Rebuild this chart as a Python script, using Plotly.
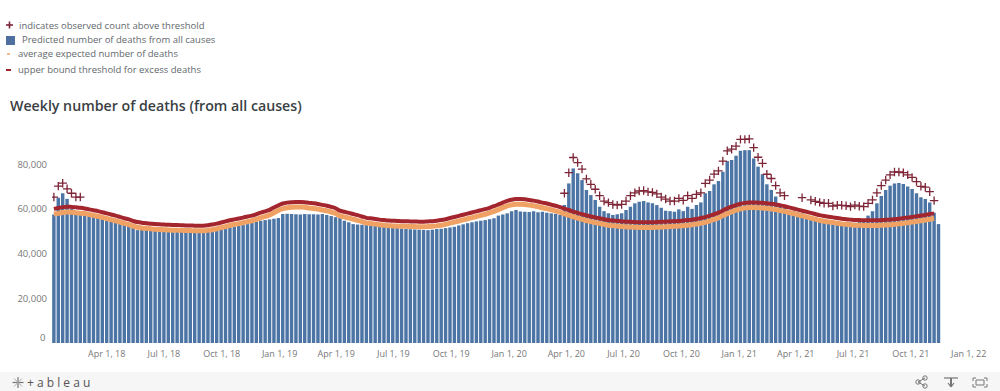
import pandas as pd
import plotly.graph_objects as go

FIRST_WEEK = "2018-01-07"
WEEK_COUNT = 202

predicted_k = [
 57.5,65,67,64.5,60,58.5,58,58,57.5,56.5,56,55.5,55,54.5,54,53.5,53,52.5,52,50.5,
 50.6,50.8,50.9,51,51,50.9,50.8,50.7,50.8,50.8,50.7,50.6,50.5,50.6,50.7,50.6,50.7,51,51.3,51.5,
 51.8,52.1,52.5,52.8,53.2,53.8,54.3,54.7,55,55.3,55.6,55.9,57.7,57.8,57.7,57.6,57.5,57.7,57.6,57.6,
 57.5,57.7,57.3,56.8,56.3,55.9,54.7,54,53.2,53,52.9,52.8,52.8,52.4,52.2,51.9,51.6,51.6,51.4,51.2,
 51,50.9,50.8,50.7,50.6,50.5,50.7,51,51.1,51.4,51.7,52,52.6,53.1,53.6,54,54.4,54.7,55,55.4,
 55.8,57,57.5,58,59,59.5,58.8,58.7,58.6,58.9,58.5,58.7,58.3,58,57.8,57.4,61.7,71.4,78.1,75.9,
 72.9,68.5,66.2,64,61,59,58,57.3,57.6,58,59.5,61,62.5,63.2,63.5,62.9,62.5,61.7,60.5,59.2,
 59,58.7,59.8,59,61,60,61.7,62.9,67,68,71,72.5,76.6,81.4,81.9,83.8,86,86.3,86.3,82.6,
 78.9,75.5,71,68.5,65.5,62,60.5,59.5,59,58.5,58,57,56.5,56,55.5,55.2,54.8,54.5,54.3,54.1,
 54,53.9,53.8,54.8,55.5,57,59,62.5,65.8,68.5,70.4,71.4,71.6,71.1,70,68.9,67,65.2,64.4,62.9,
 58.3,53.2]

threshold_k = [
 60,60.4,60.8,61,60.9,60.7,60.5,60.2,59.8,59.4,59,58.5,58,57.5,57,56.4,55.8,55.3,54.6,54.1,
 53.8,53.6,53.4,53.2,53.1,53,52.9,52.8,52.8,52.7,52.6,52.6,52.5,52.5,52.5,52.7,53,53.4,53.9,54.4,
 54.9,55.3,55.7,56.1,56.6,57,57.6,58.3,58.9,59.6,60.6,61.6,62.4,62.8,63,63.1,63.1,63,62.7,62.5,
 62.2,61.8,61.4,60.9,60.3,59.2,58.7,58.2,57.7,57.2,56.6,56,55.8,55.5,55.2,55,54.8,54.7,54.6,54.5,
 54.5,54.4,54.4,54.3,54.3,54.4,54.5,54.7,55,55.4,55.9,56.4,56.9,57.4,57.9,58.4,58.9,59.4,59.9,60.5,
 61.2,62,62.8,63.6,64.1,64.4,64.4,64.3,64,63.7,63.3,62.8,62.4,61.9,61.4,60.8,60.1,59.5,58.8,58.2,
 57.6,57.1,56.6,56.2,55.8,55.4,55,54.8,54.6,54.4,54.3,54.2,54.1,54,54,54,54,54.1,54.2,54.3,
 54.4,54.5,54.6,54.8,55,55.2,55.5,55.9,56.3,56.9,57.6,58.3,59.3,60.2,61,61.7,62.3,62.7,62.9,62.9,
 62.8,62.7,62.5,62.3,62,61.6,61.2,60.7,60.2,59.7,59.2,58.7,58.2,57.7,57.2,56.8,56.5,56.2,55.9,55.6,
 55.4,55.2,55,55,54.9,54.9,54.9,54.9,55,55.1,55.2,55.4,55.6,55.9,56.1,56.4,56.7,57,57.3,57.7,
 58,None]

average_k = [
 57.7,58,58.4,58.6,58.5,58.3,58.1,57.9,57.5,57.1,56.7,56.2,55.7,55.2,54.7,54.1,53.5,53,52.3,51.8,
 51.5,51.3,51.1,50.9,50.8,50.7,50.6,50.5,50.5,50.4,50.3,50.3,50.2,50.2,50.2,50.4,50.7,51.1,51.6,52.1,
 52.6,53,53.4,53.8,54.3,54.7,55.3,56,56.6,57.3,58.3,59.3,60.1,60.5,60.7,60.8,60.8,60.7,60.4,60.2,
 59.9,59.5,59.1,58.6,58,56.9,56.4,55.9,55.4,54.9,54.3,53.7,53.5,53.2,52.9,52.7,52.5,52.4,52.3,52.2,
 52.2,52.1,52.1,52,52,52.1,52.2,52.4,52.7,53.1,53.6,54.1,54.6,55.1,55.6,56.1,56.6,57.1,57.6,58.2,
 58.9,59.7,60.5,61.3,61.8,62.1,62.1,62,61.7,61.4,61,60.5,60.1,59.6,59.1,58.5,57.8,57.2,56.5,55.9,
 55.3,54.8,54.3,53.9,53.5,53.1,52.7,52.5,52.3,52.1,52,51.9,51.8,51.7,51.7,51.7,51.7,51.8,51.9,52,
 52.1,52.2,52.3,52.5,52.7,52.9,53.2,53.6,54,54.6,55.3,56,57,57.9,58.7,59.4,60,60.4,60.6,60.6,
 60.5,60.4,60.2,60,59.7,59.3,58.9,58.4,57.9,57.4,56.9,56.4,55.9,55.4,54.9,54.5,54.2,53.9,53.6,53.3,
 53.1,52.9,52.7,52.7,52.6,52.6,52.6,52.6,52.7,52.8,52.9,53.1,53.3,53.6,53.8,54.1,54.4,54.7,55,55.4,
 55.7,None]

observed_above_k = [
 65.3,70.2,71.5,69,67,65.3,65.3] + [None]*109 + [
 67,76.2,83,80.7,77.8,73.4,71,68.8,65.9,63.5,62.8,62,61.7,62,63.5,65.9,67.2,68,68.2,67.6,
 67.4,66.7,65.3,64.4,63.5,63.5,64.7,63.8,65.9,64.7,66.5,67.2,71.4,72.9,75.6,77,81.4,86,86.7,88.1,
 91.1,91.1,91.3,87.4,83.1,80.4,75.5,73.6,70.4,67.2,65.9,None,None,None,65,None,64,63.4,62.9,62.5,
 62.5,61.3,61.7,61.6,61.4,61,61.7,61.2,61,62.5,64,67.2,70.4,72.9,75.2,76.5,76.5,76.2,75.2,74.1,
 72.2,70.1,69.7,67.7,63.7,None]

tick_dates = ["2018-04-01","2018-07-01","2018-10-01","2019-01-01","2019-04-01","2019-07-01",
              "2019-10-01","2020-01-01","2020-04-01","2020-07-01","2020-10-01","2021-01-01",
              "2021-04-01","2021-07-01","2021-10-01","2022-01-01"]
tick_labels = ["Apr 1, 18","Jul 1, 18","Oct 1, 18","Jan 1, 19","Apr 1, 19","Jul 1, 19",
               "Oct 1, 19","Jan 1, 20","Apr 1, 20","Jul 1, 20","Oct 1, 20","Jan 1, 21",
               "Apr 1, 21","Jul 1, 21","Oct 1, 21","Jan 1, 22"]
y_ticks = [20000, 40000, 60000, 80000]
y_tick_labels = ["20,000", "40,000", "60,000", "80,000"]

legend_labels = ["indicates observed count above threshold",
                 "Predicted number of deaths from all causes",
                 "average expected number of deaths",
                 "upper bound threshold for excess deaths"]
title_text = "Weekly number of deaths (from all causes)"

W, H = 1000, 391
L, R, T, B = 52, 20, 130, 48
PW, PH = W - L - R, H - T - B
fx = lambda p: (p - L) / PW
fy = lambda p: (H - B - p) / PH

weeks = pd.date_range(FIRST_WEEK, periods=WEEK_COUNT, freq="7D")
scale = lambda s: [None if v is None else v * 1000 for v in s]

BLUE = "#4c75a5"; ORANGE = "#f0a265"; RED = "#a3252e"; PLUS = "#7d2436"
TXT = "#63686c"; FONT = "Open Sans"

fig = go.Figure()
fig.add_bar(x=weeks, y=scale(predicted_k), marker=dict(color=BLUE, line_width=0), name="predicted")
fig.add_scatter(x=weeks, y=scale(average_k), mode="lines", line=dict(color=ORANGE, width=5, shape="spline"), name="average")
fig.add_scatter(x=weeks, y=scale(threshold_k), mode="lines", line=dict(color=RED, width=4, shape="spline"), name="threshold")
fig.add_scatter(x=weeks, y=scale(observed_above_k), mode="markers", name="observed",
                marker=dict(symbol="cross-thin", size=6, line=dict(color=PLUS, width=1.3)))

shapes = []
def pline(x0, y0, x1, y1, c, w=1):
    shapes.append(dict(type="line", xref="paper", yref="paper", x0=fx(x0), y0=fy(y0), x1=fx(x1), y1=fy(y1),
                       line=dict(color=c, width=w)))
def prect(x0, y0, x1, y1, c):
    shapes.append(dict(type="rect", xref="paper", yref="paper", x0=fx(x0), y0=fy(y0), x1=fx(x1), y1=fy(y1),
                       fillcolor=c, line=dict(color=c, width=0), layer="below"))
def pcirc(cx, cy, r, c):
    shapes.append(dict(type="circle", xref="paper", yref="paper", x0=fx(cx - r), y0=fy(cy - r), x1=fx(cx + r), y1=fy(cy + r),
                       line=dict(color=c, width=1)))

prect(0, 372, 1000, 391, "#f6f6f6")
# legend keys
pline(6, 25, 13, 25, PLUS, 1.6); pline(9.5, 21.5, 9.5, 28.5, PLUS, 1.6)
prect(6, 36, 15, 45, "#4f6f9f")
pline(7, 54, 10, 54, ORANGE, 1.5)
pline(6, 70, 11, 70, RED, 2)
# tableau logo
pline(18, 377, 18, 388, "#777", 1.2); pline(12.5, 382.5, 23.5, 382.5, "#777", 1.2)
pline(14, 378.5, 22, 386.5, "#aaa", 1); pline(14, 386.5, 22, 378.5, "#aaa", 1)
# toolbar icons
pline(918, 382, 925, 378, "#777", 1); pline(918, 382, 925, 386, "#777", 1)
pcirc(918, 382, 2.2, "#777"); pcirc(925, 378, 2.2, "#777"); pcirc(925, 386, 2.2, "#777")
pline(944, 378, 958, 378, "#777", 1.2); pline(951, 378, 951, 386, "#777", 2)
pline(948, 383, 951, 387, "#777", 1.2); pline(954, 383, 951, 387, "#777", 1.2)
pline(973, 378, 976, 378, "#777", 1); pline(973, 378, 973, 381, "#777", 1)
pline(987, 378, 984, 378, "#777", 1); pline(987, 378, 987, 381, "#777", 1)
pline(973, 387, 976, 387, "#777", 1); pline(973, 387, 973, 384, "#777", 1)
pline(987, 387, 984, 387, "#777", 1); pline(987, 387, 987, 384, "#777", 1)
prect(976, 380, 984, 385, "#f6f6f6")
shapes.append(dict(type="rect", xref="paper", yref="paper", x0=fx(976), y0=fy(380), x1=fx(984), y1=fy(385),
                   line=dict(color="#777", width=1)))

ann = []
for lab, yy, xx in zip(legend_labels, [25, 40, 54, 70], [16.5, 19.5, 15.5, 15.5]):
    ann.append(dict(text=lab, xref="paper", yref="paper", x=fx(xx), y=fy(yy), xanchor="left", yanchor="middle",
                    showarrow=False, font=dict(family=FONT, size=9.5, color=TXT)))
ann.append(dict(text=title_text, xref="paper", yref="paper", x=fx(8), y=fy(106), xanchor="left", yanchor="middle",
                showarrow=False, font=dict(family=FONT, size=14.2, color="#3a3f44", weight=600)))
ann.append(dict(text="0", xref="paper", yref="paper", x=fx(47), y=fy(337), xanchor="right", yanchor="middle",
                showarrow=False, font=dict(family=FONT, size=9.5, color="#777")))
ann.append(dict(text="+ a b l e a u", xref="paper", yref="paper", x=fx(25), y=fy(382), xanchor="left", yanchor="middle",
                showarrow=False, font=dict(family=FONT, size=12, color="#555")))

fig.update_layout(
    width=W, height=H, margin=dict(l=L, r=R, t=T, b=B, pad=0),
    paper_bgcolor="white", plot_bgcolor="white", showlegend=False, bargap=0.22,
    shapes=shapes, annotations=ann,
    xaxis=dict(range=["2018-01-04", "2022-01-19"], tickvals=tick_dates, ticktext=tick_labels, tickangle=0,
               showgrid=False, zeroline=False, showline=False, ticks="",
               tickfont=dict(family=FONT, size=9, color="#777"), ticklabelstandoff=4),
    yaxis=dict(range=[0, 95300], tickvals=y_ticks, ticktext=y_tick_labels, showgrid=False, zeroline=False,
               showline=False, ticks="", tickfont=dict(family=FONT, size=9.5, color="#777"), ticklabelstandoff=4),
)
fig.write_html("out.html", config={"displayModeBar": False},
               post_script="document.body.style.margin='0';document.documentElement.style.overflow='hidden';")
